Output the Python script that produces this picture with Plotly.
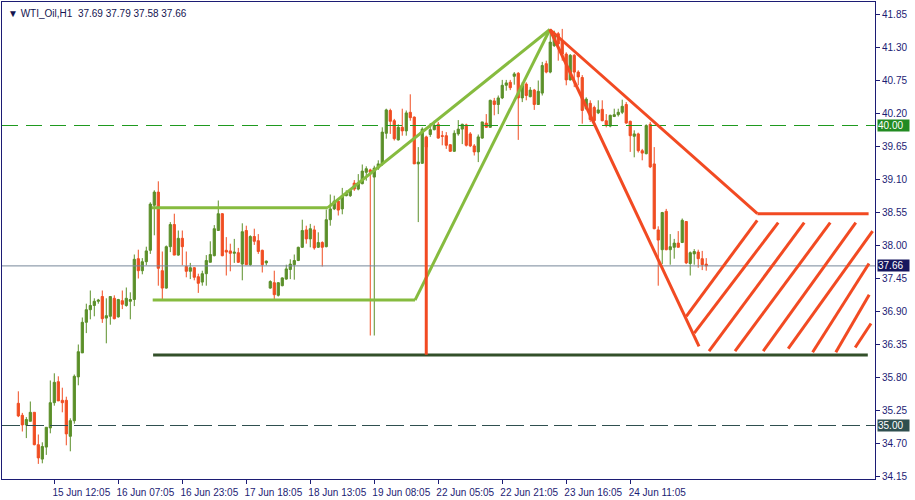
import plotly.graph_objects as go

# ---------------- data (WTI_Oil, H1) ----------------
opens = [35.37, 35.17, 35.01, 35.07, 35.22, 34.68, 34.44, 34.64, 34.96, 35.38,
         35.73, 35.42, 35.42, 34.82, 35.08, 35.81, 36.21, 36.72, 36.93, 37.00,
         37.07, 37.15, 36.79, 36.82, 37.12, 36.81, 37.08, 37.00, 37.07, 37.10,
         37.78, 37.58, 37.73, 37.92, 38.67, 38.89, 37.58, 37.29, 37.98, 38.35,
         37.84, 38.12, 37.65, 37.57, 37.63, 37.48, 37.39, 37.53, 37.72, 37.83,
         38.25, 38.53, 37.92, 37.91, 37.87, 37.88, 37.69, 38.25, 37.68, 38.15,
         38.08, 37.92, 37.71, 37.29, 37.38, 37.17, 37.33, 37.44, 37.60, 37.68,
         37.75, 37.97, 38.26, 38.11, 38.26, 37.97, 38.05, 37.98, 38.43, 38.61,
         38.74, 38.61, 38.83, 38.83, 39.04, 38.94, 39.03, 39.22, 39.26, 39.14,
         39.29, 39.36, 39.87, 40.25, 40.08, 39.76, 39.97, 39.91, 40.22, 40.14,
         39.36, 39.37, 39.81, 39.85, 39.93, 40.02, 39.83, 39.83, 39.68, 39.57,
         39.86, 39.94, 40.01, 39.86, 39.66, 39.56, 39.79, 40.04, 39.97, 40.41,
         40.35, 40.46, 40.67, 40.72, 40.82, 40.87, 40.46, 40.69, 40.48, 40.59,
         40.35, 40.54, 41.03, 40.89, 41.33, 41.53, 41.42, 41.19, 40.76, 41.17,
         40.89, 40.80, 40.28, 40.37, 40.30, 40.21, 40.27, 40.08, 39.99, 40.15,
         40.18, 40.22, 40.35, 40.07, 39.82, 39.86, 39.58, 39.53, 40.02, 39.36,
         38.26, 37.93, 38.57, 37.93, 37.97, 38.04, 38.05, 38.40, 37.70, 37.86,
         37.89, 37.78, 37.69]
highs = [35.57, 35.21, 35.14, 35.40, 35.22, 34.85, 34.72, 34.97, 35.75, 35.87,
         35.82, 35.63, 35.48, 35.12, 35.85, 36.35, 36.80, 37.03, 37.25, 37.12,
         37.11, 37.25, 37.12, 37.15, 37.17, 37.11, 37.25, 37.30, 37.22, 37.85,
         37.93, 37.79, 37.98, 38.72, 38.92, 39.07, 37.90, 38.00, 38.39, 38.53,
         38.25, 38.25, 37.90, 37.71, 37.64, 37.53, 37.58, 37.84, 38.07, 38.34,
         38.75, 38.54, 38.14, 38.03, 38.11, 37.96, 38.37, 38.33, 38.17, 38.28,
         38.19, 37.93, 37.75, 37.42, 37.58, 37.39, 37.47, 37.68, 37.77, 37.85,
         37.98, 38.43, 38.33, 38.36, 38.33, 38.22, 38.07, 38.60, 38.85, 38.83,
         38.78, 38.96, 38.92, 38.94, 39.09, 39.19, 39.35, 39.32, 39.28, 39.33,
         39.42, 39.97, 40.28, 40.28, 40.11, 40.02, 40.28, 40.25, 40.52, 40.15,
         39.64, 39.97, 39.83, 40.04, 40.08, 40.06, 39.91, 39.89, 39.69, 39.92,
         40.09, 40.03, 40.03, 39.89, 39.69, 39.85, 40.06, 40.19, 40.43, 40.46,
         40.50, 40.76, 40.76, 40.76, 40.89, 40.89, 40.72, 40.72, 40.64, 40.61,
         40.75, 41.06, 41.08, 41.60, 41.58, 41.56, 41.61, 41.22, 41.19, 41.19,
         40.92, 40.84, 40.47, 40.42, 40.33, 40.42, 40.42, 40.19, 40.18, 40.28,
         40.28, 40.43, 40.39, 40.08, 39.92, 39.88, 39.61, 40.02, 40.06, 39.64,
         38.32, 38.56, 38.61, 38.19, 38.11, 38.24, 38.45, 38.40, 37.90, 37.94,
         37.93, 37.91, 37.79]
lows = [35.14, 34.90, 34.79, 35.07, 34.67, 34.36, 34.37, 34.51, 34.87, 35.33,
        35.41, 35.22, 34.67, 34.57, 35.03, 35.67, 36.21, 36.54, 36.77, 36.82,
        37.03, 36.71, 36.37, 36.68, 36.77, 36.80, 36.94, 36.98, 36.77, 36.99,
        37.45, 37.52, 37.67, 37.86, 38.17, 37.33, 37.09, 37.28, 37.89, 37.84,
        37.83, 37.67, 37.47, 37.44, 37.42, 37.21, 37.33, 37.33, 37.72, 37.82,
        38.25, 37.82, 37.50, 37.57, 37.71, 37.71, 37.42, 37.68, 37.66, 38.01,
        37.86, 37.55, 37.67, 37.28, 37.09, 37.15, 37.32, 37.43, 37.44, 37.43,
        37.74, 37.96, 38.03, 37.97, 37.93, 37.96, 37.65, 37.97, 38.33, 38.59,
        38.50, 38.52, 38.82, 38.81, 38.91, 38.92, 39.02, 39.08, 36.50, 36.50,
        39.26, 39.33, 39.78, 39.86, 39.75, 39.75, 39.83, 39.83, 40.08, 39.36,
        38.39, 39.36, 39.60, 39.81, 39.92, 39.78, 39.67, 39.61, 39.56, 39.56,
        39.83, 39.69, 39.65, 39.64, 39.50, 39.39, 39.78, 39.96, 39.96, 40.17,
        40.19, 40.44, 40.58, 40.59, 40.68, 39.76, 40.39, 40.42, 40.47, 40.26,
        40.35, 40.50, 40.87, 40.87, 41.31, 41.08, 41.08, 40.67, 40.75, 40.64,
        40.67, 40.03, 40.26, 40.06, 40.02, 40.19, 40.07, 39.97, 39.97, 40.14,
        40.15, 40.19, 40.03, 39.56, 39.47, 39.55, 39.42, 39.52, 39.29, 38.27,
        37.33, 37.69, 37.92, 37.68, 37.78, 37.97, 38.04, 37.69, 37.50, 37.68,
        37.63, 37.59, 37.58]
closes = [35.16, 35.01, 35.10, 35.22, 34.68, 34.46, 34.65, 34.97, 35.38, 35.72,
          35.41, 35.38, 34.86, 35.08, 35.82, 36.23, 36.72, 36.93, 37.00, 37.07,
          37.09, 36.78, 36.83, 37.15, 36.78, 37.10, 37.02, 37.12, 37.10, 37.77,
          37.58, 37.73, 37.91, 38.69, 38.89, 37.62, 37.29, 37.98, 38.35, 37.84,
          38.12, 37.98, 37.57, 37.63, 37.47, 37.37, 37.53, 37.75, 37.85, 38.28,
          38.53, 37.83, 37.89, 37.87, 37.89, 37.72, 38.23, 37.68, 38.15, 38.07,
          37.90, 37.68, 37.74, 37.40, 37.18, 37.38, 37.46, 37.61, 37.69, 37.75,
          37.97, 38.25, 38.11, 38.28, 37.96, 38.05, 37.97, 38.43, 38.61, 38.74,
          38.59, 38.83, 38.87, 38.92, 38.94, 39.03, 39.24, 39.28, 39.22, 39.29,
          39.36, 39.89, 40.26, 40.07, 39.78, 39.97, 39.91, 40.21, 40.13, 39.36,
          39.39, 39.94, 39.64, 39.93, 40.00, 39.79, 39.82, 39.67, 39.57, 39.87,
          39.94, 40.02, 39.67, 39.66, 39.56, 39.81, 40.06, 39.97, 40.42, 40.35,
          40.46, 40.67, 40.71, 40.63, 40.86, 40.46, 40.67, 40.50, 40.59, 40.35,
          40.57, 41.00, 40.89, 41.39, 41.50, 41.36, 41.19, 40.76, 41.17, 40.89,
          40.81, 40.25, 40.44, 40.10, 40.08, 40.26, 40.08, 40.01, 40.17, 40.18,
          40.22, 40.32, 40.04, 39.83, 39.86, 39.58, 39.54, 40.00, 39.31, 38.28,
          38.09, 38.55, 37.93, 37.98, 38.04, 37.97, 38.42, 37.71, 37.88, 37.90,
          37.78, 37.68, 37.66]

# time axis labels (bar index -> label)
tick_idx = [9, 25, 41, 57, 73, 89, 105, 121, 137, 153]
tick_text = ["15 Jun 12:05", "16 Jun 07:05", "16 Jun 23:05", "17 Jun 18:05",
             "18 Jun 13:05", "19 Jun 08:05", "22 Jun 05:05", "22 Jun 21:05",
             "23 Jun 16:05", "24 Jun 11:05"]
price_ticks = [41.85, 41.30, 40.75, 40.20, 39.65, 39.10, 38.55, 38.00,
               37.45, 36.90, 36.35, 35.80, 35.25, 34.70, 34.15]
symbol = "WTI_Oil,H1"
levels = [40.00, 35.00]

# drawn objects (bar index, price)
apex = (132.9, 41.60)
green_top = [(33.4, 38.63), (77.4, 38.63), apex]
green_bot = [(33.6, 37.09), (99.2, 37.09), apex]
support = [(33.7, 36.175), (212.4, 36.175)]
red_vert = [(102.0, 39.80), (102.0, 36.18)]
red_upper = [apex, (184.8, 38.53), (212.6, 38.53)]
red_steep = [apex, (170.2, 36.32)]
hatch = [
    [(167.0, 36.82), (184.75, 38.42)],
    [(169.0, 36.54), (190.0, 38.38)],
    [(172.7, 36.24), (196.5, 38.38)],
    [(179.2, 36.24), (203.0, 38.38)],
    [(186.25, 36.24), (209.4, 38.38)],
    [(192.5, 36.28), (213.6, 38.24)],
    [(198.6, 36.22), (212.7, 37.70)],
    [(204.4, 36.22), (212.75, 37.18)],
    [(209.25, 36.30), (213.2, 36.70)],
]

# ---------------- style ----------------
UP = "#5b8f29"
DN = "#f04d22"
LGREEN = "#86bb3f"
DGREEN = "#33502a"
RED = "#f24a22"
NAVY = "#1c1c74"
FONT = "Liberation Sans"

x = list(range(len(opens)))

fig = go.Figure()
fig.add_trace(go.Candlestick(
    x=x, open=opens, high=highs, low=lows, close=closes,
    increasing=dict(line=dict(color=UP, width=1), fillcolor=UP),
    decreasing=dict(line=dict(color=DN, width=1), fillcolor=DN),
    whiskerwidth=0, showlegend=False, hoverinfo="skip"))

shapes = []


def poly(points, color, width=3):
    for (x0, y0), (x1, y1) in zip(points[:-1], points[1:]):
        shapes.append(dict(type="line", xref="x", yref="y", x0=x0, y0=y0,
                           x1=x1, y1=y1, line=dict(color=color, width=width)))


# horizontal level lines
shapes.append(dict(type="line", xref="paper", yref="y", x0=0, x1=1,
                   y0=levels[0], y1=levels[0],
                   line=dict(color="#1f9a1f", width=1, dash="16px,8px")))
shapes.append(dict(type="line", xref="paper", yref="y", x0=0, x1=1,
                   y0=levels[1], y1=levels[1],
                   line=dict(color="#2f4f4f", width=1, dash="18px,6px")))
shapes.append(dict(type="line", xref="paper", yref="y", x0=0, x1=1,
                   y0=closes[-1], y1=closes[-1],
                   line=dict(color="#778899", width=1)))

poly(green_top, LGREEN)
poly(green_bot, LGREEN)
poly(support, DGREEN)
poly(red_vert, RED, 3)
poly(red_upper, RED)
poly(red_steep, RED)
for h in hatch:
    poly(h, RED)

annotations = [
    dict(xref="paper", yref="paper", x=0, y=1, xshift=4, yshift=-4,
         xanchor="left", yanchor="top", showarrow=False,
         text="\u25bc " + symbol + "\u00a0\u00a0" +
              f"{opens[-1]:.2f} {highs[-1]:.2f} {lows[-1]:.2f} {closes[-1]:.2f}",
         font=dict(family=FONT, size=10, color="#141450")),
]
for val, bg in [(levels[0], "#228b22"), (closes[-1], "#16165e"), (levels[1], "#2f4f4f")]:
    annotations.append(dict(xref="paper", yref="y", x=1, y=val, xshift=2,
                            xanchor="left", yanchor="middle", showarrow=False,
                            text=f"{val:.2f}", bgcolor=bg, width=31, align="left",
                            borderpad=0,
                            font=dict(family=FONT, size=10, color="white")))

fig.update_layout(
    width=915, height=500,
    margin=dict(l=2, r=40, t=2, b=21),
    paper_bgcolor="white", plot_bgcolor="white",
    font=dict(family=FONT, size=10, color=NAVY),
    shapes=shapes, annotations=annotations,
    boxgap=0.45, boxgroupgap=0,
    showlegend=False,
)
fig.update_xaxes(
    range=[-4.08, 214.2], rangeslider=dict(visible=False),
    tickmode="array", tickvals=tick_idx, ticktext=tick_text,
    ticks="outside", ticklen=4, tickcolor=NAVY, ticklabelshift=27,
    showgrid=False, zeroline=False,
    showline=True, linecolor=NAVY, linewidth=1, mirror=True,
)
fig.update_yaxes(
    range=[34.1083, 42.0583], side="right",
    tickmode="array", tickvals=price_ticks,
    ticktext=[f"{v:.2f}" for v in price_ticks],
    ticks="outside", ticklen=4, tickcolor=NAVY,
    showgrid=False, zeroline=False,
    showline=True, linecolor=NAVY, linewidth=1, mirror=True,
)

fig.write_html("out.html",
               config={"displayModeBar": False},
               post_script="document.body.style.margin='0';"
                           "document.body.style.padding='0';"
                           "document.body.style.overflow='hidden';")
